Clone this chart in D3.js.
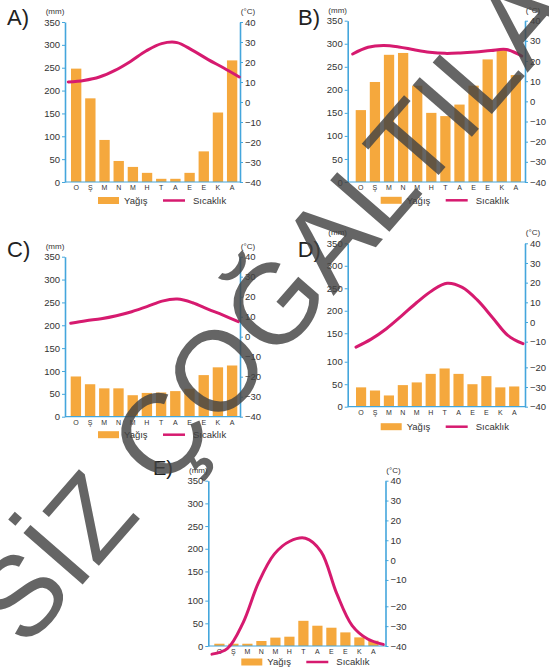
<!DOCTYPE html>
<html><head><meta charset="utf-8">
<script src="https://cdn.jsdelivr.net/npm/d3@7"></script>
<style>
html,body{margin:0;padding:0;background:#fff;}
svg{display:block;font-family:"Liberation Sans",Arial,sans-serif;}
</style></head><body>
<svg id="c" width="549" height="670"></svg>
<script>
// ---- data ----
const months = ["O","Ş","M","N","M","H","T","A","E","E","K","A"];
const rainTicks = [0,50,100,150,200,250,300,350];
const tempTicks = [-40,-30,-20,-10,0,10,20,30,40];
const chartLabels = ["A)","B)","C)","D)","E)"];
const legendLabels = ["Yağış","Sıcaklık"];
const unitLabels = ["(mm)","(°C)"];
const watermark = "SİZ ÇOĞALTILA";

const rainA = [248,183,92,46,33,20,7,7,20,67,152,266];
const tempA = [10,10.8,12.5,15.8,20.3,25.5,29.2,29.7,25.8,21.2,17,12.5];
const rainB = [156,217,276,280,209,150,143,168,209,266,288,232];
const tempB = [23.5,26.8,27.7,27,25.6,24.4,23.8,24,24.5,25.2,25.7,22.5];
const rainC = [88,71,62,62,47,52,53,56,61,91,108,112];
const tempC = [6.7,8,9,10.5,12.5,15,17.8,18.8,17,13.8,10.8,7.5];
const rainD = [43,36,25,48,54,73,85,73,50,68,43,45];
const tempD = [-12.1,-8.7,-3.4,3.1,9.9,15.9,19.7,17.6,11.1,2.2,-6.8,-10.8];
const rainE = [5,5,5,11,18.5,20.5,55.5,44.7,40.3,30,19,11.7];
const tempE = [-44.1,-41.2,-28.2,-10.8,3,9.5,11,4.3,-15,-29.7,-36.5,-39.2];

const rainSeries = [rainA, rainB, rainC, rainD, rainE];
const tempSeries = [tempA, tempB, tempC, tempD, tempE];

// ---- layout ----
const layouts = [
  {xL:65,    xR:240,   top:22,    bot:182,   gap:0,   barL:6,   barR:2.7, lineL:3.3, lineR:0.7, tx:7,     ty:25,  fs:22, legDy:18.5},
  {xL:347.7, xR:525,   top:20.7,  bot:182,   gap:0,   barL:8,   barR:4,   lineL:5,   lineR:3.3, tx:298,   ty:25,  fs:22, legDy:18.3},
  {xL:65,    xR:240,   top:256.7, bot:416.7, gap:0,   barL:5.7, barR:2.7, lineL:5.7, lineR:1.7, tx:7,     ty:257, fs:22, legDy:18},
  {xL:347.7, xR:525,   top:243.3, bot:406.7, gap:6,   barL:8.3, barR:5.7, lineL:8.3, lineR:2,   tx:297.7, ty:257, fs:22, legDy:20},
  {xL:208.3, xR:385.5, top:480.7, bot:646,   gap:6.5, barL:6,   barR:7,   lineL:3.7, lineR:2.2, tx:153,   ty:475, fs:20, legDy:16}
];

const C_AXIS = "#44a6dc", C_BAR = "#f5a83d", C_LINE = "#d61a6f", C_TEXT = "#333";
const svg = d3.select("#c");

layouts.forEach((L, ci) => {
  const rain = rainSeries[ci], temp = tempSeries[ci];
  const g = svg.append("g");
  const H = L.bot - L.top - L.gap;
  const k = H / 350, kr = H / 80;
  const yL = d3.scaleLinear()
    .domain([0, 100, 150, 350])
    .range([L.bot, L.bot - 100*k, L.bot - 150*k - L.gap, L.top]);
  const yR = d3.scaleLinear()
    .domain([-40, -20, -10, 40])
    .range([L.bot, L.bot - 20*kr, L.bot - 30*kr - L.gap, L.top]);
  const idx = d3.range(months.length);
  const x = d3.scaleBand().domain(idx).range([L.xL + L.barL, L.xR - L.barR]).paddingInner(0.27).paddingOuter(0);
  const xp = d3.scalePoint().domain(idx).range([L.xL + L.lineL, L.xR - L.lineR]);

  // bars
  g.append("g").selectAll("rect").data(rain).join("rect")
    .attr("x", (d,i) => x(i)).attr("width", x.bandwidth())
    .attr("y", d => yL(d)).attr("height", d => L.bot - yL(d))
    .attr("fill", C_BAR);

  // baseline
  g.append("line").attr("x1", L.xL).attr("x2", L.xR).attr("y1", L.bot).attr("y2", L.bot)
    .attr("stroke", C_AXIS).attr("stroke-width", 1.2);

  // left axis
  const ax = g.append("g").attr("transform", `translate(${L.xL},0)`)
    .call(d3.axisLeft(yL).tickValues(rainTicks).tickSize(3).tickSizeOuter(0).tickPadding(2));
  // right axis
  const axr = g.append("g").attr("transform", `translate(${L.xR},0)`)
    .call(d3.axisRight(yR).tickValues(tempTicks).tickSize(3).tickSizeOuter(0).tickPadding(2));
  [ax, axr].forEach(a => {
    a.select(".domain").attr("stroke", C_AXIS).attr("stroke-width", 1.6);
    a.selectAll(".tick line").attr("stroke", C_AXIS).attr("stroke-width", 1);
    a.selectAll("text").attr("fill", C_TEXT).style("font-size", "9.5px");
  });

  // month labels
  const bx = g.append("g").attr("transform", `translate(0,${L.bot})`)
    .call(d3.axisBottom(x).tickSize(0).tickPadding(3).tickFormat(i => months[i]));
  bx.select(".domain").remove();
  bx.selectAll("text").attr("fill", C_TEXT).style("font-size", "7px");

  // temperature line
  g.append("path").datum(temp)
    .attr("d", d3.line().x((d,i) => xp(i)).y(d => yR(d)).curve(d3.curveCatmullRom.alpha(0.5)))
    .attr("fill", "none").attr("stroke", C_LINE).attr("stroke-width", 3).attr("stroke-linecap", "round");

  // unit labels
  g.append("text").attr("x", L.xL - 10).attr("y", L.top - 11).attr("dy", "0.35em")
    .attr("text-anchor", "middle").attr("fill", C_TEXT).style("font-size", "8px").text(unitLabels[0]);
  g.append("text").attr("x", L.xR + 8).attr("y", L.top - 11).attr("dy", "0.35em")
    .attr("text-anchor", "middle").attr("fill", C_TEXT).style("font-size", "8px").text(unitLabels[1]);

  // chart label
  g.append("text").attr("x", L.tx).attr("y", L.ty).attr("fill", "#222")
    .style("font-size", L.fs + "px").text(chartLabels[ci]);

  // legend
  const ly = L.bot + L.legDy;
  g.append("rect").attr("x", L.xL + 33).attr("y", ly - 3.5).attr("width", 21).attr("height", 7).attr("fill", C_BAR);
  g.append("text").attr("x", L.xL + 59).attr("y", ly).attr("dy", "0.35em").attr("fill", C_TEXT)
    .style("font-size", "9.5px").text(legendLabels[0]);
  g.append("line").attr("x1", L.xL + 98).attr("x2", L.xL + 120).attr("y1", ly).attr("y2", ly)
    .attr("stroke", C_LINE).attr("stroke-width", 2.5);
  g.append("text").attr("x", L.xL + 128).attr("y", ly).attr("dy", "0.35em").attr("fill", C_TEXT)
    .style("font-size", "9.5px").text(legendLabels[1]);
});

// watermark
svg.append("text").attr("transform", "translate(-4,624) rotate(-49)")
  .attr("dominant-baseline", "central")
  .attr("fill", "#444").attr("opacity", 0.82)
  .style("font-size", "114px")
  .text(watermark);
</script>
</body></html>
